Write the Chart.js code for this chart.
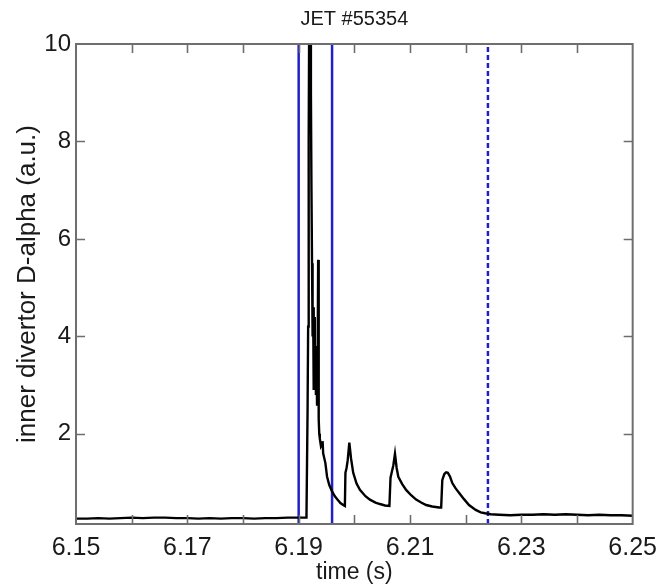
<!DOCTYPE html>
<html>
<head>
<meta charset="utf-8">
<script src="https://cdn.jsdelivr.net/npm/chart.js@4.4.1/dist/chart.umd.min.js"></script>
<style>
  html, body { margin: 0; padding: 0; background: #fff; }
  #wrap { width: 666px; height: 584px; }
</style>
</head>
<body>
<div id="wrap"><canvas id="c" width="666" height="584"></canvas></div>
<script>
// ---- data ----
const chartTitle = 'JET #55354';
const times = [
  6.150, 6.152, 6.154, 6.156, 6.158, 6.160, 6.162, 6.164, 6.166, 6.168,
  6.170, 6.172, 6.174, 6.176, 6.178, 6.180, 6.182, 6.184, 6.186, 6.188,
  6.190, 6.1914, 6.1916, 6.1917, 6.1918, 6.1919, 6.1921, 6.1922, 6.1923, 6.1924,
  6.1925, 6.1926, 6.1927, 6.1928, 6.1929, 6.1930, 6.1931, 6.1932, 6.1933, 6.1934,
  6.1935, 6.1936, 6.1937, 6.1938, 6.1940, 6.1942, 6.1943, 6.1944, 6.1948, 6.1951,
  6.1955, 6.1960, 6.1965, 6.1970, 6.1975, 6.1980, 6.1983, 6.1984, 6.1986, 6.1988,
  6.1991, 6.1994, 6.1998, 6.2004, 6.2010, 6.2020, 6.2028, 6.2038, 6.2046, 6.2055,
  6.2063, 6.2065, 6.2067, 6.2070, 6.2073, 6.2076, 6.2079, 6.2086, 6.2093, 6.2102,
  6.2111, 6.2120, 6.2129, 6.2140, 6.2152, 6.2156, 6.2158, 6.2160, 6.2162, 6.2165,
  6.2168, 6.2172, 6.2176, 6.2182, 6.2188, 6.2197, 6.2206, 6.2218, 6.2227, 6.2235,
  6.2245, 6.2260, 6.228, 6.230, 6.232, 6.234, 6.236, 6.238, 6.240, 6.242,
  6.244, 6.246, 6.248, 6.250
];
const dalpha = [
  0.26, 0.26, 0.27, 0.26, 0.27, 0.28, 0.27, 0.28, 0.28, 0.27,
  0.27, 0.26, 0.27, 0.26, 0.27, 0.27, 0.26, 0.27, 0.27, 0.28,
  0.28, 0.28, 2.5, 4.2, 8.0, 10.8, 11.0, 9.0, 7.0, 5.5,
  4.0, 4.6, 2.9, 4.4, 3.0, 3.8, 2.8, 3.5, 2.6, 3.3,
  5.57, 2.3, 2.0, 1.9, 1.75, 1.8, 1.85, 1.6, 1.4, 1.12,
  0.95, 0.82, 0.72, 0.65, 0.58, 0.54, 0.52, 1.2, 1.3, 1.45,
  1.82, 1.5, 1.2, 0.98, 0.85, 0.72, 0.65, 0.59, 0.56, 0.53,
  0.52, 1.1, 1.2, 1.35, 1.59, 1.3, 1.12, 0.97, 0.85, 0.74,
  0.65, 0.59, 0.54, 0.51, 0.49, 0.49, 1.05, 1.12, 1.18, 1.21,
  1.2, 1.12, 0.99, 0.88, 0.79, 0.66, 0.54, 0.44, 0.39, 0.37,
  0.35, 0.34, 0.33, 0.34, 0.34, 0.35, 0.34, 0.35, 0.34, 0.33,
  0.34, 0.33, 0.33, 0.32
];
const solidMarkers = [6.190, 6.196];
const dashedMarkers = [6.224];
const xTickValues = [6.15, 6.16, 6.17, 6.18, 6.19, 6.20, 6.21, 6.22, 6.23, 6.24, 6.25];
const xLabelValues = [6.15, 6.17, 6.19, 6.21, 6.23, 6.25];
const yTickValues = [2, 4, 6, 8, 10];
const yMin = 0.15, yMax = 10;
const xMin = 6.15, xMax = 6.25;

// ---- build datasets ----
const trace = times.map((t, i) => ({ x: t, y: dalpha[i] }));
const BLUE = '#2020c8';
const markerSets = [];
solidMarkers.forEach(t => markerSets.push({
  data: [{ x: t, y: yMin }, { x: t, y: yMax }],
  borderColor: BLUE, borderWidth: 2.5, pointRadius: 0, tension: 0
}));
dashedMarkers.forEach(t => markerSets.push({
  data: [{ x: t, y: yMin }, { x: t, y: yMax }],
  borderColor: BLUE, borderWidth: 2.5, borderDash: [5, 3], pointRadius: 0, tension: 0
}));

const FONT = "'Liberation Sans', Arial, sans-serif";
const TXT = '#1a1a1a';
const AXIS = '#6e6e6e';

const frame = {
  id: 'frame',
  afterDatasetsDraw(chart) {
    const { ctx, chartArea: a, scales: { x, y } } = chart;
    ctx.save();
    ctx.strokeStyle = AXIS;
    ctx.lineWidth = 1.6;
    const tl = 9;
    ctx.beginPath();
    xTickValues.forEach(v => {
      if (v === xMin || v === xMax) return;
      const px = Math.round(x.getPixelForValue(v)) + 0.5;
      ctx.moveTo(px, a.bottom); ctx.lineTo(px, a.bottom - tl);
      ctx.moveTo(px, a.top); ctx.lineTo(px, a.top + tl);
    });
    yTickValues.forEach(v => {
      if (v === yMax) return;
      const py = Math.round(y.getPixelForValue(v)) + 0.5;
      ctx.moveTo(a.left, py); ctx.lineTo(a.left + tl, py);
      ctx.moveTo(a.right, py); ctx.lineTo(a.right - tl, py);
    });
    ctx.stroke();
    ctx.lineWidth = 2;
    ctx.strokeRect(a.left, a.top, a.right - a.left, a.bottom - a.top);
    // title centred over the plot area
    ctx.fillStyle = TXT;
    ctx.font = "20px " + FONT;
    ctx.textAlign = 'center';
    ctx.textBaseline = 'middle';
    ctx.fillText(chartTitle, (a.left + a.right) / 2, 19);
    ctx.restore();
  }
};

new Chart(document.getElementById('c'), {
  type: 'line',
  data: {
    datasets: [
      { data: trace, borderColor: '#000', borderWidth: 2.4, pointRadius: 0, tension: 0 },
      ...markerSets
    ]
  },
  options: {
    responsive: false,
    animation: false,
    events: [],
    layout: { padding: { left: 0, right: 27, top: 44, bottom: 0 } },
    plugins: {
      legend: { display: false },
      tooltip: { enabled: false },
      title: { display: false }
    },
    scales: {
      x: {
        type: 'linear', min: xMin, max: xMax,
        grid: { display: false, drawTicks: false },
        border: { display: false },
        afterBuildTicks: s => { s.ticks = xTickValues.map(v => ({ value: v })); },
        afterFit: s => { s.height = 60; },
        ticks: {
          color: TXT, padding: 9, maxRotation: 0, autoSkip: false,
          font: { family: FONT, size: 25 },
          callback: v => xLabelValues.some(l => Math.abs(l - v) < 1e-6) ? v.toFixed(2) : ''
        },
        title: {
          display: true, text: 'time (s)', color: TXT,
          font: { family: FONT, size: 23, lineHeight: 1 }, padding: { top: 0, bottom: 0 }
        }
      },
      y: {
        type: 'linear', min: yMin, max: yMax,
        grid: { display: false, drawTicks: false },
        border: { display: false },
        afterBuildTicks: s => { s.ticks = yTickValues.map(v => ({ value: v })); },
        afterFit: s => { s.width = 76; },
        ticks: {
          color: TXT, padding: 5,
          font: { family: FONT, size: 24 },
          callback: v => String(v)
        },
        title: {
          display: true, text: 'inner divertor D-alpha (a.u.)', color: TXT,
          font: { family: FONT, size: 26, lineHeight: 1.1 }, padding: { top: 14, bottom: 0 }
        }
      }
    }
  },
  plugins: [frame]
});
</script>
</body>
</html>
